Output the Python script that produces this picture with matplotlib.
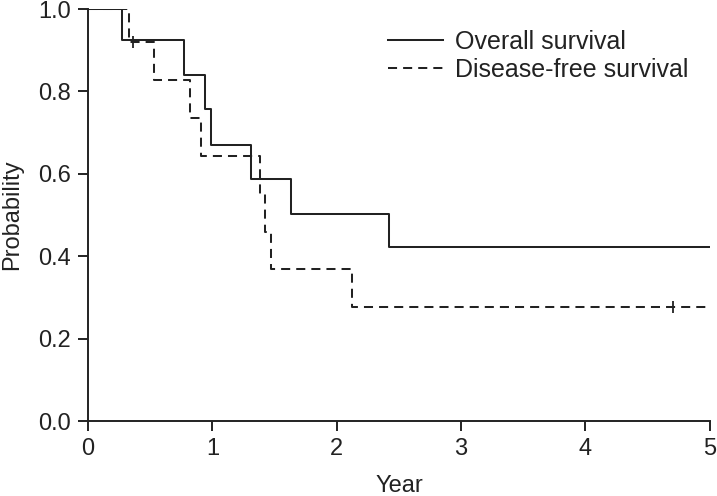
# 生存曲線 (Kaplan-Meier) の描画

import matplotlib
matplotlib.use('Agg')
import matplotlib.pyplot as plt

# 全生存 (Overall survival)
os_time = [0, 0.27, 0.77, 0.94, 0.99, 1.31, 1.63, 2.42, 5.0]
os_prob = [1.0, 0.925, 0.840, 0.758, 0.670, 0.588, 0.503, 0.422, 0.422]

# 無病生存 (Disease-free survival)
dfs_time = [0, 0.33, 0.53, 0.82, 0.91, 1.38, 1.42, 1.47, 2.12, 5.0]
dfs_prob = [1.0, 0.920, 0.827, 0.735, 0.643, 0.551, 0.460, 0.369, 0.276, 0.276]

# 打ち切り
dfs_cens_time = [0.36, 4.70]
dfs_cens_prob = [0.920, 0.276]

xticks = [0, 1, 2, 3, 4, 5]
yticks = [0.0, 0.2, 0.4, 0.6, 0.8, 1.0]

plt.rcParams['font.family'] = ['Liberation Sans', 'DejaVu Sans']
col = '#222222'

fig = plt.figure(figsize=(7.17, 4.96), dpi=100)
ax = fig.add_axes([0.1227, 0.151, 0.8673, 0.8308])

ax.step(os_time, os_prob, where='post', color=col, lw=1.45, label='Overall survival')
ax.step(dfs_time, dfs_prob, where='post', color=col, lw=1.45, dashes=(4.5, 3),
        label='Disease-free survival')
ax.plot(dfs_cens_time, dfs_cens_prob, ls='none', marker='|', ms=8, mew=1.3, color=col)

ax.set_xlim(0, 5)
ax.set_ylim(0, 1.0)
ax.set_xticks(xticks)
ax.set_yticks(yticks)
ax.set_yticklabels(['%.1f' % v for v in yticks])
ax.tick_params(direction='out', length=7, width=1.4, color=col, labelsize=17,
               labelcolor=col, pad=5)
for s in ['top', 'right']:
    ax.spines[s].set_visible(False)
for s in ['left', 'bottom']:
    ax.spines[s].set_linewidth(1.4)
    ax.spines[s].set_color(col)

ax.set_xlabel('Year', fontsize=17, color=col, labelpad=11)
ax.set_ylabel('Probability', fontsize=17, color=col, labelpad=11)

leg = ax.legend(loc='upper left', bbox_to_anchor=(0.482, 0.949), frameon=False,
                fontsize=18, handlelength=2.2, handletextpad=0.5, labelspacing=0.15,
                borderaxespad=0, borderpad=0)
for t in leg.get_texts():
    t.set_color(col)

fig.savefig('out.png', dpi=100)
